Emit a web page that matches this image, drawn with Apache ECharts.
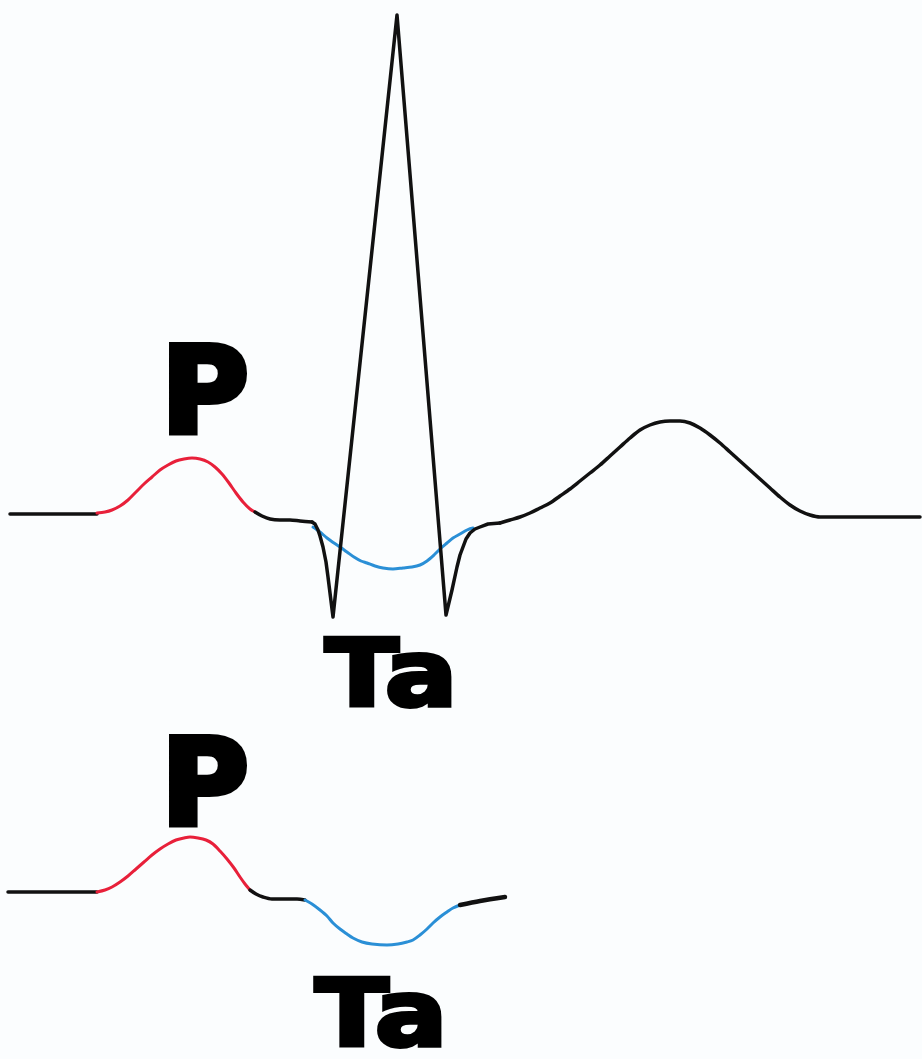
<!DOCTYPE html>
<html><head><meta charset="utf-8">
<script src="https://cdn.jsdelivr.net/npm/echarts@6/dist/echarts.min.js"></script>
<style>html,body{margin:0;padding:0;background:#fbfdfe}#c{width:922px;height:1059px}</style>
</head><body><div id="c"></div>
<script>
// time (ms-like units) and amplitude (mV-like units)
// ---- upper trace: full P-QRS-T complex ----
const topBaseline = [[10,0],[97,0]];
const topP = [[97,0.01],[105,0.02],[112,0.04],[120,0.08],[128,0.14],[136,0.22],[144,0.30],[152,0.37],[160,0.44],[168,0.49],[176,0.53],[184,0.55],[192,0.56],[200,0.55],[208,0.52],[215,0.47],[222,0.40],[229,0.31],[236,0.21],[243,0.12],[250,0.05],[255,0.02]];
const topPR = [[255,0.02],[262,-0.02],[270,-0.05],[280,-0.06],[290,-0.06],[300,-0.07],[312,-0.08]];
const topQRS = [[312,-0.08],[315,-0.10],[318,-0.16],[320,-0.22],[323,-0.33],[326,-0.48],[328,-0.63],[333,-1.03],[397,4.99],[446,-1.01],[452,-0.76],[457,-0.53],[460,-0.41],[463,-0.33],[466,-0.25],[470,-0.19],[475,-0.15],[480,-0.13],[488,-0.10],[500,-0.09]];
const topT = [[500,-0.09],[510,-0.06],[520,-0.03],[530,0.01],[540,0.06],[550,0.11],[560,0.18],[570,0.25],[580,0.33],[590,0.41],[600,0.49],[610,0.58],[620,0.67],[630,0.76],[640,0.84],[650,0.89],[660,0.92],[670,0.93],[680,0.93],[690,0.91],[700,0.86],[710,0.79],[720,0.71],[730,0.62],[740,0.53],[750,0.44],[760,0.35],[770,0.26],[780,0.17],[790,0.09],[800,0.03],[810,-0.01],[820,-0.03],[830,-0.03],[920,-0.03]];
const topTa = [[313,-0.13],[320,-0.18],[327,-0.24],[334,-0.29],[340,-0.33],[347,-0.38],[354,-0.43],[361,-0.47],[367,-0.49],[375,-0.52],[383,-0.54],[393,-0.55],[403,-0.54],[412,-0.53],[420,-0.51],[427,-0.47],[434,-0.41],[440,-0.35],[447,-0.29],[453,-0.24],[460,-0.20],[467,-0.16],[473,-0.14]];
// ---- lower trace: P and Ta only ----
const botBaseline = [[8,0],[97,0]];
const botP = [[97,0],[105,0.02],[112,0.05],[120,0.10],[128,0.16],[136,0.23],[144,0.30],[152,0.37],[160,0.43],[168,0.48],[176,0.52],[184,0.54],[190,0.55],[198,0.54],[206,0.52],[213,0.48],[220,0.41],[227,0.33],[234,0.24],[240,0.15],[245,0.08],[250,0.02]];
const botPR = [[250,0.02],[256,-0.02],[263,-0.05],[272,-0.07],[285,-0.07],[297,-0.07],[305,-0.08]];
const botTa = [[305,-0.08],[312,-0.12],[320,-0.18],[327,-0.24],[333,-0.31],[340,-0.37],[347,-0.42],[353,-0.46],[362,-0.50],[372,-0.52],[387,-0.53],[398,-0.52],[407,-0.50],[413,-0.48],[420,-0.43],[427,-0.37],[433,-0.31],[440,-0.25],[447,-0.20],[453,-0.16],[460,-0.13]];
const botEnd = [[460,-0.13],[480,-0.09],[505,-0.05]];
// labels
const labelP = 'P';
const labelTa = 'Ta';

const BLACK = '#111111', RED = '#e8203a', BLUE = '#2a8fd6';
function line(data, color, grid, smooth, width) {
  return {type:'line', data, xAxisIndex:grid, yAxisIndex:grid, showSymbol:false, symbol:'none',
    smooth: smooth, clip:false, lineStyle:{color, width: width || 3, cap:'round', join:'round'}, silent:true, animation:false};
}
function label(text, x, y, size, stroke, sx) {
  return {type:'text', x, y, scaleX: sx || 1, silent:true, style:{text, font:'bold ' + size + 'px "DejaVu Sans", sans-serif',
    fill:'#000', stroke:'#000', lineWidth:stroke, lineJoin:'miter', textVerticalAlign:'top', textAlign:'left'}};
}
const chart = echarts.init(document.getElementById('c'), null, {renderer:'canvas'});
chart.setOption({
  backgroundColor:'#fbfdfe',
  animation:false,
  grid:[
    {left:0, width:922, top:0, height:634},
    {left:0, width:922, top:792, height:160}
  ],
  xAxis:[
    {type:'value', min:0, max:922, show:false, gridIndex:0},
    {type:'value', min:0, max:922, show:false, gridIndex:1}
  ],
  yAxis:[
    {type:'value', min:-1.2, max:5.14, show:false, gridIndex:0},
    {type:'value', min:-0.6, max:1.0, show:false, gridIndex:1}
  ],
  series:[
    line(topTa, BLUE, 0, 0.3),
    line(topBaseline, BLACK, 0, false, 3.5),
    line(topP, RED, 0, 0.3),
    line(topPR, BLACK, 0, 0.3, 3.5),
    line(topQRS, BLACK, 0, false, 3.5),
    line(topT, BLACK, 0, 0.3, 3.5),
    line(botBaseline, BLACK, 1, false, 3.5),
    line(botP, RED, 1, 0.3),
    line(botPR, BLACK, 1, 0.3, 3.5),
    line(botTa, BLUE, 1, 0.3),
    line(botEnd, BLACK, 1, 0.3, 4.5)
  ],
  graphic:[
    label(labelP, 161, 341, 120, 6, 1.0),
    label(labelTa, 325, 635, 93, 4, 1.16),
    label(labelP, 161, 733, 120, 6, 1.0),
    label(labelTa, 315, 975, 93, 4, 1.16)
  ]
});
</script></body></html>
